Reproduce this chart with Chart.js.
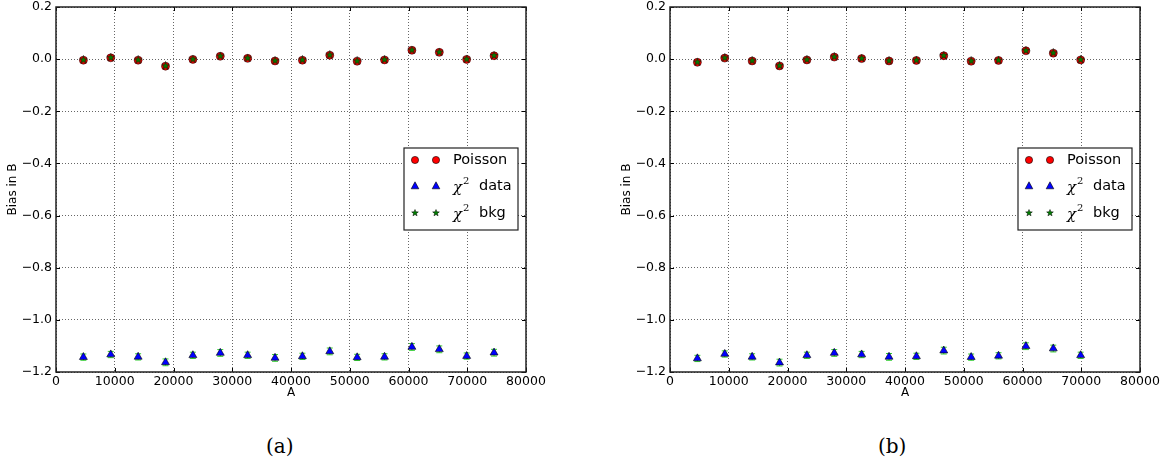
<!DOCTYPE html>
<html>
<head>
<meta charset="utf-8">
<script src="https://cdn.jsdelivr.net/npm/chart.js@4.4.1/dist/chart.umd.min.js"></script>
<style>
  body { margin: 0; background: #fff; }
  #wrap { position: relative; width: 1167px; height: 467px; background: #fff; }
  canvas { position: absolute; top: 0; }
  .cap { position: absolute; top: 434px; font-family: "DejaVu Serif", serif; font-size: 20px; color: #000; }
</style>
</head>
<body>
<div id="wrap">
  <canvas id="chartA" width="553" height="400" style="left:0px"></canvas>
  <canvas id="chartB" width="553" height="400" style="left:614px"></canvas>
  <div class="cap" style="left:266px">(a)</div>
  <div class="cap" style="left:878px">(b)</div>
</div>
<script>
// A positions of the points
const xValues = [4660, 9320, 13980, 18640, 23300, 27960, 32620, 37280, 41940, 46600, 51260, 55920, 60580, 65240, 69900, 74560];
const xTicks = [0, 10000, 20000, 30000, 40000, 50000, 60000, 70000, 80000];
const yTicks = [0.2, 0.0, -0.2, -0.4, -0.6, -0.8, -1.0, -1.2];

// panel (a)
const poissonA = [-0.004, 0.005, -0.004, -0.027, -0.001, 0.011, 0.003, -0.007, -0.004, 0.015, -0.008, -0.003, 0.034, 0.026, -0.001, 0.013];
const chi2DataA = [-1.143, -1.133, -1.142, -1.163, -1.136, -1.127, -1.136, -1.146, -1.140, -1.121, -1.144, -1.142, -1.104, -1.113, -1.139, -1.126];
const chi2BkgA = [-0.003, 0.006, -0.003, -0.026, 0.000, 0.012, 0.004, -0.006, -0.003, 0.016, -0.007, -0.002, 0.035, 0.027, 0.000, 0.014];
const poissonErrA = [0.008, 0.008, 0.008, 0.009, 0.008, 0.009, 0.008, 0.009, 0.008, 0.009, 0.008, 0.008, 0.009, 0.009, 0.008, 0.009];
const chi2ErrA = [0.012, 0.012, 0.012, 0.013, 0.012, 0.013, 0.012, 0.013, 0.012, 0.013, 0.012, 0.012, 0.013, 0.013, 0.012, 0.013];

// panel (b)
const poissonB = [-0.012, 0.004, -0.007, -0.026, -0.003, 0.008, 0.002, -0.007, -0.005, 0.013, -0.008, -0.005, 0.032, 0.023, -0.003];
const chi2DataB = [-1.148, -1.131, -1.142, -1.164, -1.136, -1.127, -1.133, -1.142, -1.140, -1.118, -1.143, -1.138, -1.101, -1.110, -1.136];
const chi2BkgB = [-0.011, 0.005, -0.006, -0.025, -0.002, 0.009, 0.003, -0.006, -0.004, 0.014, -0.007, -0.004, 0.033, 0.024, -0.002];
const poissonErrB = [0.008, 0.008, 0.008, 0.009, 0.008, 0.009, 0.008, 0.009, 0.008, 0.009, 0.008, 0.008, 0.009, 0.009, 0.008];
const chi2ErrB = [0.012, 0.012, 0.012, 0.013, 0.012, 0.013, 0.012, 0.013, 0.012, 0.013, 0.012, 0.012, 0.013, 0.013, 0.012];

const seriesNames = ['Poisson', 'data', 'bkg'];

// matplotlib style filled star marker
function makeStar(size, color) {
    const c = document.createElement('canvas');
    c.width = size; c.height = size;
    const g = c.getContext('2d');
    const cx = size / 2, cy = size / 2, ro = size / 2 - 0.5, ri = ro * 0.42;
    g.beginPath();
    for (let i = 0; i < 10; i++) {
        const r = i % 2 ? ri : ro;
        const a = -Math.PI / 2 + i * Math.PI / 5;
        g.lineTo(cx + r * Math.cos(a), cy + r * Math.sin(a));
    }
    g.closePath();
    g.fillStyle = color;
    g.fill();
    g.lineWidth = 0.5;
    g.strokeStyle = '#000';
    g.stroke();
    return c;
}
const starImg = makeStar(9, '#008000');
const starSmall = makeStar(8, '#008000');

function pts(ys) {
    return ys.map((y, i) => ({ x: xValues[i], y: y }));
}

const fmtY = v => {
    if (Math.abs(v) < 1e-9) v = 0;
    return v.toFixed(1).replace('-', '\u2212');
};

// error bars behind the markers
const errorBars = {
    id: 'errorBars',
    beforeDatasetsDraw(chart) {
        const ctx = chart.ctx, xs = chart.scales.x, ys = chart.scales.y;
        const errs = chart.options.plugins.errorBars.errs;
        ctx.save();
        errs.forEach(e => {
            const data = chart.data.datasets[e.ds].data;
            ctx.strokeStyle = e.color;
            ctx.lineWidth = 1;
            data.forEach((p, i) => {
                const px = xs.getPixelForValue(p.x);
                const y1 = ys.getPixelForValue(p.y + e.err[i]);
                const y2 = ys.getPixelForValue(p.y - e.err[i]);
                ctx.beginPath();
                ctx.moveTo(px, y1); ctx.lineTo(px, y2);
                ctx.moveTo(px - 3, y1); ctx.lineTo(px + 3, y1);
                ctx.moveTo(px - 3, y2); ctx.lineTo(px + 3, y2);
                ctx.stroke();
            });
        });
        ctx.restore();
    }
};

// frame, inner ticks and the legend box
const frameAndLegend = {
    id: 'frameAndLegend',
    afterDraw(chart) {
        const ctx = chart.ctx, a = chart.chartArea;
        const xs = chart.scales.x, ys = chart.scales.y;
        ctx.save();
        ctx.strokeStyle = '#000';
        ctx.lineWidth = 1;
        ctx.beginPath();
        xTicks.forEach(t => {
            const px = Math.round(xs.getPixelForValue(t)) + 0.5;
            ctx.moveTo(px, a.bottom); ctx.lineTo(px, a.bottom - 4);
            ctx.moveTo(px, a.top); ctx.lineTo(px, a.top + 4);
        });
        yTicks.forEach(t => {
            const py = Math.round(ys.getPixelForValue(t)) + 0.5;
            ctx.moveTo(a.left, py); ctx.lineTo(a.left + 4, py);
            ctx.moveTo(a.right, py); ctx.lineTo(a.right - 4, py);
        });
        ctx.stroke();
        ctx.strokeStyle = '#222';
        ctx.lineWidth = 1.5;
        ctx.strokeRect(a.left, a.top, a.right - a.left, a.bottom - a.top);

        // legend
        const lx = a.right - 122, ly = 148, lw = 114, lh = 82;
        ctx.fillStyle = '#fff';
        ctx.fillRect(lx, ly, lw, lh);
        ctx.lineWidth = 1.2;
        ctx.strokeStyle = '#222';
        ctx.strokeRect(lx, ly, lw, lh);
        const rows = [ly + 12, ly + 38, ly + 65];
        const mx = [lx + 11, lx + 32];
        mx.forEach(x => {
            ctx.beginPath();
            ctx.arc(x, rows[0], 3.6, 0, Math.PI * 2);
            ctx.fillStyle = '#ff0000'; ctx.fill();
            ctx.lineWidth = 0.6; ctx.strokeStyle = '#000'; ctx.stroke();
            ctx.beginPath();
            ctx.moveTo(x, rows[1] - 4.2);
            ctx.lineTo(x + 3.8, rows[1] + 2.8);
            ctx.lineTo(x - 3.8, rows[1] + 2.8);
            ctx.closePath();
            ctx.fillStyle = '#0000ff'; ctx.fill(); ctx.stroke();
            ctx.drawImage(starSmall, x - 4, rows[2] - 4);
        });
        const tx = lx + 49;
        ctx.fillStyle = '#000';
        ctx.textBaseline = 'middle';
        ctx.font = '14.5px "DejaVu Sans"';
        ctx.fillText(seriesNames[0], tx, rows[0]);
        [1, 2].forEach(k => {
            ctx.font = 'italic 15px "DejaVu Serif"';
            ctx.fillText('\u03c7', tx, rows[k] + 2);
            ctx.font = '10px "DejaVu Serif"';
            ctx.fillText('2', tx + 10, rows[k] - 5);
            ctx.font = '14.5px "DejaVu Sans"';
            ctx.fillText(seriesNames[k], tx + 26, rows[k]);
        });
        ctx.restore();
    }
};

function makeChart(id, poisson, chi2Data, chi2Bkg, pErr, cErr) {
    new Chart(document.getElementById(id).getContext('2d'), {
        type: 'scatter',
        data: {
            datasets: [
                { label: 'Poisson', data: pts(poisson), pointStyle: 'circle', pointRadius: 4,
                  backgroundColor: '#ff0000', borderColor: '#000', borderWidth: 0.5, order: 3 },
                { label: 'chi2 data', data: pts(chi2Data), pointStyle: 'triangle', pointRadius: 4.6,
                  backgroundColor: '#0000ff', borderColor: '#000', borderWidth: 0.6, order: 2 },
                { label: 'chi2 bkg', data: pts(chi2Bkg), pointStyle: starImg, pointRadius: 4,
                  backgroundColor: '#008000', borderColor: '#000', borderWidth: 0.5, order: 1 }
            ]
        },
        options: {
            responsive: false,
            animation: false,
            events: [],
            layout: { padding: { left: 0, top: 7, right: 27, bottom: 0 } },
            plugins: {
                legend: { display: false },
                tooltip: { enabled: false },
                errorBars: { errs: [
                    { ds: 0, err: pErr, color: '#7a3cff' },
                    { ds: 1, err: cErr, color: '#33cc33' }
                ] }
            },
            scales: {
                x: {
                    type: 'linear', min: 0, max: 80000,
                    afterFit: s => { s.height = 28; s.paddingLeft = 0; s.paddingRight = 0; },
                    ticks: { stepSize: 10000, color: '#000', padding: 2,
                             font: { family: 'DejaVu Sans', size: 12.5 },
                             maxRotation: 0, callback: v => String(v) },
                    grid: { color: 'rgba(0,0,0,0.6)', lineWidth: 1, drawTicks: false },
                    border: { display: false, dash: [1, 2] },
                    title: { display: true, text: 'A', color: '#000',
                             font: { family: 'DejaVu Sans', size: 12 }, padding: { top: 0, bottom: 0 } }
                },
                y: {
                    min: -1.2, max: 0.2,
                    afterFit: s => { s.width = 56; s.paddingTop = 0; s.paddingBottom = 0; },
                    ticks: { stepSize: 0.2, color: '#000', padding: 4,
                             font: { family: 'DejaVu Sans', size: 12.5 }, callback: fmtY },
                    grid: { color: 'rgba(0,0,0,0.6)', lineWidth: 1, drawTicks: false },
                    border: { display: false, dash: [1, 2] },
                    title: { display: true, text: 'Bias in B', color: '#000',
                             font: { family: 'DejaVu Sans', size: 12 }, padding: { top: 6, bottom: 0 } }
                }
            }
        },
        plugins: [errorBars, frameAndLegend]
    });
}

makeChart('chartA', poissonA, chi2DataA, chi2BkgA, poissonErrA, chi2ErrA);
makeChart('chartB', poissonB, chi2DataB, chi2BkgB, poissonErrB, chi2ErrB);
</script>
</body>
</html>
